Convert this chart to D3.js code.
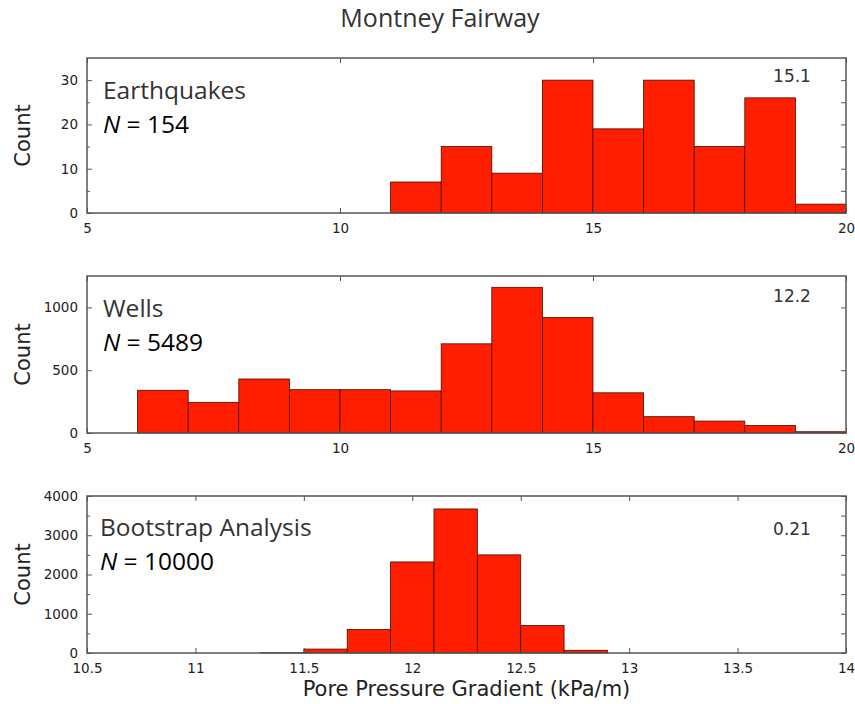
<!DOCTYPE html>
<html>
<head>
<meta charset="utf-8">
<script src="https://cdn.jsdelivr.net/npm/d3@7"></script>
<style>
  body { margin: 0; background: #fff; }
  svg text { font-family: "DejaVu Sans", sans-serif; }
  .calibri { font-family: "Open Sans", sans-serif; }
</style>
</head>
<body>
<div id="chart"></div>
<script>
// histogram bins (edges) and counts
var eqEdges = [11, 12, 13, 14, 15, 16, 17, 18, 19, 20];
var eqCounts = [7, 15, 9, 30, 19, 30, 15, 26, 2];

var wellEdges = [6, 7, 8, 9, 10, 11, 12, 13, 14, 15, 16, 17, 18, 19, 20];
var wellCounts = [340, 244, 430, 345, 345, 335, 710, 1160, 920, 320, 130, 95, 60, 10];

var bootEdges = [11.3, 11.5, 11.7, 11.9, 12.1, 12.3, 12.5, 12.7, 12.9];
var bootCounts = [5, 100, 600, 2320, 3670, 2500, 700, 70];

var panelNames = ["Earthquakes", "Wells", "Bootstrap Analysis"];
var panelN = ["154", "5489", "10000"];
var panelStats = ["15.1", "12.2", "0.21"];

var eqXTicks = [5, 10, 15, 20];
var eqYTicks = [0, 10, 20, 30];
var eqYMinor = [5, 15, 25];
var wellXTicks = [5, 10, 15, 20];
var wellYTicks = [0, 500, 1000];
var bootXTicks = [10.5, 11, 11.5, 12, 12.5, 13, 13.5, 14];
var bootYTicks = [0, 1000, 2000, 3000, 4000];
var bootYMinor = [500, 1500, 2500, 3500];

var width = 855, height = 704;
var left = 87, right = 846;

var svg = d3.select("#chart").append("svg")
    .attr("width", width)
    .attr("height", height);

svg.append("text")
    .attr("class", "calibri")
    .attr("x", 440)
    .attr("y", 27)
    .attr("text-anchor", "middle")
    .attr("font-size", 25)
    .attr("fill", "#333")
    .text("Montney Fairway");

function drawPanel(p) {
    var x = d3.scaleLinear().domain(p.xDomain).range([left, right]);
    var y = d3.scaleLinear().domain(p.yDomain).range([p.bottom, p.top]);
    var g = svg.append("g");

    var bins = p.counts.map(function(c, i) {
        return {x0: p.edges[i], x1: p.edges[i + 1], n: c};
    });

    g.selectAll("rect.bar")
        .data(bins)
      .enter().append("rect")
        .attr("class", "bar")
        .attr("x", function(d) { return x(d.x0); })
        .attr("width", function(d) { return x(d.x1) - x(d.x0); })
        .attr("y", function(d) { return y(d.n); })
        .attr("height", function(d) { return y(0) - y(d.n); })
        .attr("fill", "#ff1f00")
        .attr("stroke", "#4a0a00")
        .attr("stroke-width", 0.8);

    // axes, ticks pointing inward like matlab
    var tickStyle = function(sel) {
        sel.select(".domain").remove();
        sel.selectAll(".tick line").attr("stroke", "#555");
        sel.selectAll(".tick text")
            .attr("font-family", "DejaVu Sans")
            .attr("font-size", 13.5)
            .attr("fill", "#222");
    };

    var xAxis = d3.axisBottom(x).tickValues(p.xTicks).tickSize(-5).tickPadding(10)
        .tickFormat(d3.format("~g"));
    g.append("g")
        .attr("transform", "translate(0," + p.bottom + ")")
        .call(xAxis)
        .call(tickStyle);

    g.append("g")
        .attr("transform", "translate(0," + p.top + ")")
        .call(d3.axisTop(x).tickValues(p.xTicks).tickSize(-5).tickFormat(""))
        .call(tickStyle);

    var yAxis = d3.axisLeft(y).tickValues(p.yTicks).tickSize(-5).tickPadding(9)
        .tickFormat(d3.format("d"));
    g.append("g")
        .attr("transform", "translate(" + left + ",0)")
        .call(yAxis)
        .call(tickStyle);

    g.append("g")
        .attr("transform", "translate(" + right + ",0)")
        .call(d3.axisRight(y).tickValues(p.yTicks.concat(p.yMinor)).tickSize(-5).tickFormat(""))
        .call(tickStyle);

    if (p.yMinor.length) {
        g.append("g")
            .attr("transform", "translate(" + left + ",0)")
            .call(d3.axisLeft(y).tickValues(p.yMinor).tickSize(-3).tickFormat(""))
            .call(tickStyle);
    }

    g.append("rect")
        .attr("x", left)
        .attr("y", p.top)
        .attr("width", right - left)
        .attr("height", p.bottom - p.top)
        .attr("fill", "none")
        .attr("stroke", "#555")
        .attr("stroke-width", 1.5);

    g.append("text")
        .attr("transform", "translate(30," + ((p.top + p.bottom) / 2) + ") rotate(-90)")
        .attr("text-anchor", "middle")
        .attr("font-size", 21)
        .attr("fill", "#222")
        .text("Count");

    // name and N in one text block, two lines
    var lbl = g.append("text")
        .attr("class", "calibri")
        .attr("x", p.labelX)
        .attr("y", p.top + p.nameDy)
        .attr("font-size", 24.5);
    lbl.append("tspan")
        .attr("fill", "#333")
        .text(p.name);
    lbl.append("tspan")
        .attr("x", p.labelX)
        .attr("dy", 33.5)
        .attr("fill", "#000")
        .attr("font-style", "italic")
        .text("N");
    lbl.append("tspan")
        .attr("fill", "#000")
        .text(" = " + p.n);

    g.append("text")
        .attr("x", 792)
        .attr("y", p.top + p.statDy)
        .attr("text-anchor", "middle")
        .attr("font-size", 17)
        .attr("fill", "#333")
        .text(p.stat);
}

drawPanel({
    edges: eqEdges, counts: eqCounts,
    xDomain: [5, 20], yDomain: [0, 35],
    xTicks: eqXTicks, yTicks: eqYTicks, yMinor: eqYMinor,
    top: 58, bottom: 213,
    name: panelNames[0], n: panelN[0], stat: panelStats[0],
    labelX: 103, nameDy: 41, statDy: 24
});

drawPanel({
    edges: wellEdges, counts: wellCounts,
    xDomain: [5, 20], yDomain: [0, 1250],
    xTicks: wellXTicks, yTicks: wellYTicks, yMinor: [],
    top: 276, bottom: 433,
    name: panelNames[1], n: panelN[1], stat: panelStats[1],
    labelX: 103, nameDy: 41, statDy: 26
});

drawPanel({
    edges: bootEdges, counts: bootCounts,
    xDomain: [10.5, 14], yDomain: [0, 4000],
    xTicks: bootXTicks, yTicks: bootYTicks, yMinor: bootYMinor,
    top: 496, bottom: 653,
    name: panelNames[2], n: panelN[2], stat: panelStats[2],
    labelX: 100, nameDy: 40, statDy: 39
});

svg.append("text")
    .attr("x", (left + right) / 2)
    .attr("y", 696)
    .attr("text-anchor", "middle")
    .attr("font-size", 21)
    .attr("fill", "#222")
    .text("Pore Pressure Gradient (kPa/m)");
</script>
</body>
</html>
